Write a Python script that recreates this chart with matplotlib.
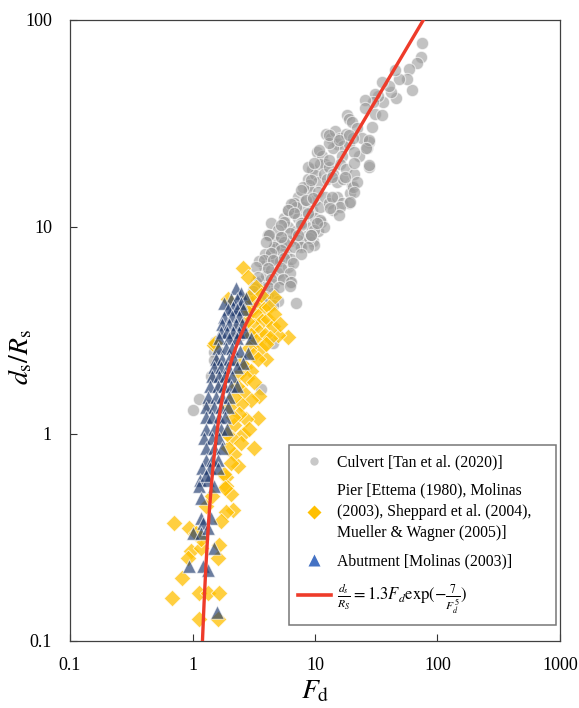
import numpy as np
import matplotlib
matplotlib.use("Agg")
import matplotlib.pyplot as plt
from matplotlib.lines import Line2D

plt.rcParams['font.family'] = ['Liberation Serif', 'DejaVu Serif']
plt.rcParams['mathtext.fontset'] = 'stix'

# ---------------- data ----------------
culvert_fd = [75, 73, 68, 59, 62, 56, 49, 45, 46, 42, 40, 35, 36, 33, 31, 30, 31, 25.6, 25.6, 35, 29,
              18.2, 19, 20, 22, 27.5, 26.5, 27.5, 24, 23,
              12.4, 13.5, 14.5, 15, 16, 17, 18, 14, 13, 16.5, 19, 20.5, 21, 10.3, 11.5, 12,
              8.8, 9.5, 10, 10.5, 11, 11.8, 12.5, 13, 14, 15, 16, 17, 18, 20, 21, 19.5, 20.5, 9,
              7.3, 7.8, 8.3, 9, 9.5, 10, 10.5, 11, 12, 13, 14, 15, 16.5, 19, 8, 6.8,
              5.3, 5.6, 6, 6.3, 6.6, 7, 7.3, 7.6, 8, 8.4, 8.8, 9.2, 9.6, 10, 10.5, 11.3, 9.9, 6, 7, 5,
              4.4, 4.1, 4.7,
              3.6, 3.8, 4, 4.2, 4.4, 4.6, 4.8, 5, 5.2, 5.5, 5.8, 6, 6.4, 6.2, 4.5, 5.3, 3.9, 3.5,
              3.2, 3.4, 3.6, 3.8, 4.1, 4.5, 5, 7, 3.0, 2.9, 3.3,
              1.55, 1.6, 1.49, 1.49, 1.49, 1.41, 1.13, 1.0, 1.33, 3.64, 4.56, 2.5, 2.7, 2.3, 2.2, 1.7, 1.8,
              12.9, 10.7, 15.6, 18.8, 27.5, 26.3, 27.5, 8.85, 9.9, 12.9, 21, 21.9, 21, 17.5, 13.7, 9.3,
              7.75, 8.5, 9.7, 13.7, 15.9, 19.2, 15.6, 13.2, 6.4, 6.05, 6.8, 8.85, 10.9, 11.9, 9.9, 7.75,
              5.6, 5.0, 4.15, 6.2, 7.3, 9.0, 9.3, 5.6, 4.6, 7.75,
              10.3, 7.75, 5.3, 4.2, 4.0, 5.3, 7.3, 9.3, 8.85, 6.8, 5.3, 4.4, 3.8, 4.55, 5.6, 7.75, 6.6,
              3.3, 4.15, 5.3, 6.2, 3.4, 4.4, 5.5, 3.2, 4.15, 5.1, 6.4, 6.2, 3.1, 2.9, 3.9, 4.55, 1.52]
culvert_ratio = [77, 66, 62, 58, 46, 52, 52, 57, 42, 45, 48, 50, 40, 43, 44, 40, 35, 41, 37.5, 34.7, 30.5,
                 34.7, 33, 32, 30, 25.6, 24, 19.5, 27, 22,
                 28, 27, 29, 25, 27, 24.5, 28, 24, 25.5, 22, 25, 27, 23, 23, 22, 20,
                 17, 19, 18, 16.5, 20, 18, 17, 19.5, 18, 16.5, 20, 17, 19, 16, 18, 14.5, 15.5, 16,
                 14, 12.5, 13.5, 15, 12, 13.5, 14.8, 12.5, 14, 13, 12, 14, 13, 13, 15.5, 13,
                 9, 11, 10, 8.5, 11.8, 9.5, 11, 8.2, 10.5, 9, 11.5, 10, 8.5, 11, 9.5, 10.5, 8.2, 12, 12.5, 8,
                 10.4, 9.1, 8.5,
                 5.5, 6.5, 5.8, 7.2, 6.2, 5.3, 7, 6, 6.8, 5.6, 7.5, 6.4, 7, 5.4, 7.8, 8.2, 7.4, 6.8,
                 4.5, 4.9, 4.4, 5.1, 4.6, 4.8, 4.4, 4.3, 4.0, 4.6, 5.4,
                 2.2, 2.5, 2.67, 2.47, 2.26, 1.91, 1.48, 1.30, 1.37, 1.64, 2.73, 3.0, 3.5, 3.2, 2.9, 1.7, 1.9,
                 27.7, 23.5, 26.2, 27.7, 26.2, 24, 19.9, 19.4, 20.3, 21, 20.3, 16.4, 14.7, 17.4, 17.4, 16.9,
                 15, 13.4, 13.7, 13.9, 12.4, 13.2, 11.4, 12.3, 12.9, 12, 11.6, 11.7, 10.8, 10, 9.6, 10.4,
                 10.5, 9.6, 9.1, 9.3, 8.6, 8.8, 9.1, 8.4, 8.0, 8.0,
                 10.4, 10.2, 10.2, 9.1, 8.4, 8.9, 9.1, 9.1, 8.0, 8.0, 7.7, 7.5, 6.9, 6.9, 7.1, 7.4, 6.7,
                 6.4, 6.3, 6.3, 6.0, 5.7, 5.6, 5.6, 5.1, 5.1, 5.1, 5.4, 5.2, 4.9, 4.4, 4.6, 4.2, 2.78]

pier_fd = [2.59, 2.84, 1.95, 3.3, 4.65, 6.05, 5.0, 4.0, 1.49, 1.52,
           3.2, 3.5, 3.8, 4.2, 3.0, 3.4, 3.7, 4.1, 4.5, 3.2, 3.5, 3.9, 4.3, 3.0, 3.3, 3.6, 4.0, 2.9,
           3.1, 3.4, 2.8, 2.7, 4.6, 5.2, 3.6, 2.9,
           2.5, 2.7, 3.0, 2.4, 2.8, 3.18, 3.5, 3.0, 2.6, 2.3, 2.5, 2.2, 3.43, 2.74, 2.4, 2.2, 2.6,
           2.9, 2.1, 3.18, 2.5, 2.2, 2.35, 1.88, 1.88, 2.05, 1.95, 2.15, 2.0, 1.9,
           0.70, 0.93, 1.81, 2.06, 2.15, 1.88, 1.71, 1.64, 1.61, 0.97, 0.91, 0.82, 0.68, 1.12, 1.35,
           1.64, 1.12, 1.61, 1.17, 1.17, 1.07, 1.85, 1.3, 1.45]
pier_ratio = [6.3, 5.7, 4.5, 5.1, 4.6, 2.92, 3.0, 2.31, 2.67, 2.76,
              4.4, 4.2, 4.0, 4.1, 3.9, 3.7, 3.5, 3.6, 3.3, 3.3, 3.1, 3.0, 2.9, 3.0, 2.8, 2.6, 2.7, 2.6,
              2.4, 2.3, 3.5, 4.0, 3.8, 3.4, 4.7, 4.6,
              2.2, 2.1, 2.0, 1.95, 1.85, 1.77, 1.53, 1.45, 1.6, 1.7, 1.4, 1.5, 1.19, 1.18, 1.25, 1.1, 1.0,
              1.05, 0.95, 0.85, 0.9, 0.8, 0.70, 0.615, 0.56, 0.72, 0.85, 1.2, 1.35, 1.0,
              0.37, 0.35, 0.64, 0.51, 0.43, 0.42, 0.38, 0.29, 0.25, 0.27, 0.25, 0.20, 0.16, 0.17, 0.17,
              0.17, 0.128, 0.128, 0.28, 0.31, 0.33, 0.55, 0.45, 0.50]

abut_fd = [2.27, 2.48, 2.06, 2.74, 2.3, 1.81, 2.15, 2.5, 1.95, 2.3, 2.6, 1.81, 2.1, 2.4,
           1.75, 2.0, 2.25, 2.55, 1.7, 1.9, 2.15, 2.4, 2.7, 3.0, 1.65, 2.0, 2.3,
           1.6, 1.88, 2.1, 2.45, 2.84, 1.55, 1.75, 2.0, 2.2, 2.6, 1.5, 1.7, 1.95, 2.3,
           1.45, 1.65, 1.85, 2.1, 1.4, 1.6, 1.8, 2.05, 2.3, 1.35, 1.55, 1.75, 2.0,
           1.3, 1.5, 1.7, 1.95, 1.28, 1.45, 1.65, 1.85, 1.3, 1.5, 1.7, 1.9,
           1.25, 1.45, 1.65, 1.3, 1.5, 1.75, 1.28, 1.45, 1.6, 1.2, 1.4, 1.6, 1.15, 1.35,
           1.12, 1.17, 1.29, 1.49, 1.17, 1.41, 1.21, 1.0, 1.17, 1.35, 1.49, 0.93, 1.21, 1.35, 1.58]
abut_ratio = [5.05, 4.8, 4.5, 4.55, 4.5, 4.3, 4.1, 4.3, 4.0, 4.0, 4.0, 3.66, 3.7, 3.7,
              3.4, 3.4, 3.4, 3.4, 3.1, 3.1, 3.1, 3.1, 3.1, 2.9, 2.9, 2.9, 2.9,
              2.6, 2.6, 2.6, 2.5, 2.45, 2.3, 2.3, 2.3, 2.3, 2.2, 2.1, 2.1, 2.1, 2.1,
              1.9, 1.9, 1.9, 1.9, 1.7, 1.7, 1.7, 1.7, 1.7, 1.5, 1.5, 1.5, 1.5,
              1.35, 1.35, 1.35, 1.35, 1.2, 1.2, 1.2, 1.2, 1.05, 1.05, 1.05, 1.05,
              0.95, 0.95, 0.95, 0.85, 0.85, 0.85, 0.75, 0.75, 0.75, 0.68, 0.68, 0.68, 0.6, 0.6,
              0.56, 0.49, 0.63, 0.56, 0.39, 0.39, 0.37, 0.33, 0.33, 0.35, 0.28, 0.23, 0.23, 0.22, 0.137]

# model curve parameters (from the legend equation)
coef_a = 1.3
coef_b = 7.0
curve_fd = np.logspace(np.log10(1.2), np.log10(90), 500)
curve_ratio = coef_a * curve_fd * np.exp(-coef_b / curve_fd ** 5)

x_ticks = [0.1, 1, 10, 100, 1000]
x_ticklabels = ['0.1', '1', '10', '100', '1000']
y_ticks = [0.1, 1, 10, 100]
y_ticklabels = ['0.1', '1', '10', '100']

# ---------------- figure ----------------
fig = plt.figure(figsize=(5.79, 7.08), dpi=100)
ax = fig.add_axes([0.121, 0.095, 0.846, 0.877])

ax.scatter(culvert_fd, culvert_ratio, s=78, marker='o', color='#9a9a9a', alpha=0.6,
           edgecolors='white', linewidths=0.8, zorder=2)
ax.scatter(pier_fd, pier_ratio, s=72, marker='D', color='#FFC000', alpha=0.75,
           edgecolors='white', linewidths=0.6, zorder=3)
ax.scatter(abut_fd, abut_ratio, s=95, marker='^', color='#1F3A6E', alpha=0.66,
           edgecolors='white', linewidths=0.7, zorder=4)
ax.plot(curve_fd, curve_ratio, color='#EE3B2A', lw=2.4, zorder=5)

ax.set_xscale('log')
ax.set_yscale('log')
ax.set_xlim(0.1, 1000)
ax.set_ylim(0.1, 100)
ax.set_xticks(x_ticks)
ax.set_xticklabels(x_ticklabels)
ax.set_yticks(y_ticks)
ax.set_yticklabels(y_ticklabels)
ax.minorticks_off()
ax.tick_params(direction='in', length=5, width=0.8, labelsize=13, colors='#333333',
               labelcolor='black')
ax.tick_params(axis='x', pad=12)
ax.tick_params(axis='y', pad=13)
for sp in ax.spines.values():
    sp.set_color('#404040')
    sp.set_linewidth(0.9)

ax.set_xlabel(r'$F_\mathrm{d}$', fontsize=20, labelpad=3)
ax.set_ylabel(r'$d_\mathrm{s}/R_\mathrm{s}$', fontsize=20, va='center')
ax.yaxis.set_label_coords(-0.10, 0.457)

handles = [
    Line2D([], [], ls='none', marker='o', markersize=6, color='#c8c8c8', mec='none'),
    Line2D([], [], ls='none', marker='D', markersize=7, color='#FFC000', mec='none'),
    Line2D([], [], ls='none', marker='^', markersize=9, color='#4472C4', mec='none'),
    Line2D([], [], color='#EE3B2A', lw=2.6),
]
labels = [
    'Culvert [Tan et al. (2020)]',
    'Pier [Ettema (1980), Molinas\n(2003), Sheppard et al. (2004),\nMueller & Wagner (2005)]',
    'Abutment [Molinas (2003)]',
    r'$\frac{d_s}{R_S} = 1.3F_d\mathrm{exp}(-\frac{7}{F_d^5})$',
]
leg = ax.legend(handles, labels, loc='lower left', bbox_to_anchor=(0.447, 0.026, 0.545, 0.283),
                mode='expand', frameon=True, fancybox=False, edgecolor='#555555', fontsize=11.3,
                handlelength=2.1, labelspacing=0.8, borderpad=0.55, handletextpad=0.4,
                borderaxespad=0.0)
leg.get_frame().set_linewidth(1.1)
for t in leg.get_texts():
    t.set_linespacing(1.42)
leg.get_texts()[3].set_fontsize(12)

fig.savefig('out.png', dpi=100)
